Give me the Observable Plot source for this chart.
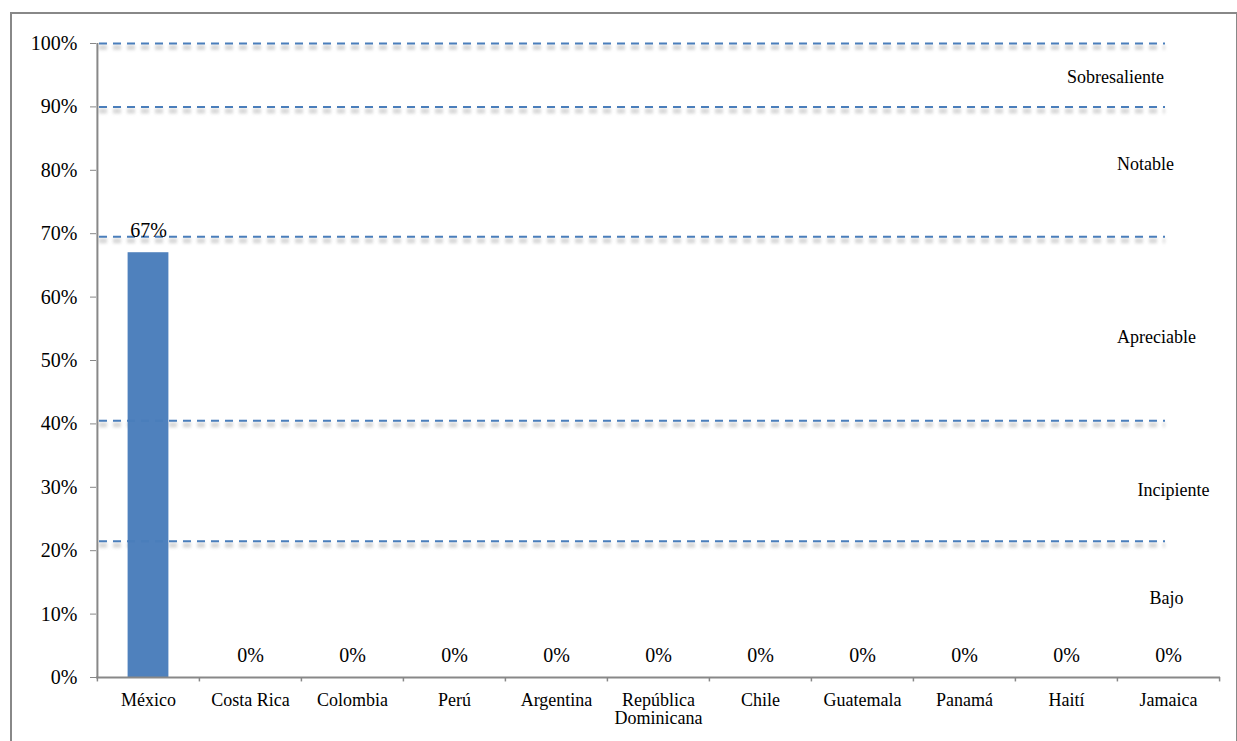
<!DOCTYPE html>
<html>
<head>
<meta charset="utf-8">
<script src="https://cdn.jsdelivr.net/npm/d3@7"></script>
<script src="https://cdn.jsdelivr.net/npm/@observablehq/plot@0.6"></script>
<style>
  html, body { margin: 0; padding: 0; background: #fff; }
  #wrap { position: relative; width: 1237px; height: 741px; overflow: hidden; }
  #frame { position: absolute; left: 10px; top: 12px; width: 1224px; height: 800px; border: 2px solid #888; pointer-events: none; }
</style>
</head>
<body>
<div id="wrap"><div id="frame"></div><div id="chart"></div></div>
<script>
const countries = ["México","Costa Rica","Colombia","Perú","Argentina","República Dominicana","Chile","Guatemala","Panamá","Haití","Jamaica"];
const tickLabels = ["México","Costa Rica","Colombia","Perú","Argentina","República\nDominicana","Chile","Guatemala","Panamá","Haití","Jamaica"];
const values = [0.67, 0, 0, 0, 0, 0, 0, 0, 0, 0, 0];
const yTicks = [0, 0.1, 0.2, 0.3, 0.4, 0.5, 0.6, 0.7, 0.8, 0.9, 1.0];
const thresholds = [1.0, 0.90, 0.695, 0.405, 0.215];
const zoneNames = ["Sobresaliente", "Notable", "Apreciable", "Incipiente", "Bajo"];
const zoneLabelY = [0.947, 0.809, 0.536, 0.295, 0.125];

const data = countries.map((c, i) => ({country: c, value: values[i]}));
const labelOf = new Map(countries.map((c, i) => [c, tickLabels[i]]));

const W = 1237, H = 741, mL = 96, mR = 17, mT = 43, mB = 64;
const bw = (W - mL - mR) / countries.length;
const pct = d3.format(".0%");
const zoneDx = [-53, -23, -12, 5, -2];

const marks = [
  // dashed threshold shadows
  Plot.ruleY(thresholds, {stroke: "#b0b0b0", strokeWidth: 5, strokeOpacity: 0.5, strokeDasharray: "8,6", dy: 4, insetLeft: 3, insetRight: 55, imageFilter: "blur(1.5px)"}),
  Plot.barY(data, {x: "country", y: "value", fill: "#4f81bd", insetLeft: 30.6, insetRight: 30.6}),
  Plot.ruleY(thresholds, {stroke: "#4a7ebb", strokeWidth: 2, strokeDasharray: "8,6", insetLeft: 3, insetRight: 55}),
  // axis lines
  Plot.ruleY([0], {stroke: "#888", strokeWidth: 2}),
  Plot.ruleX([countries[0]], {y1: 0, y2: 1, dx: -bw / 2, stroke: "#888", strokeWidth: 2}),
  // category boundary ticks
  Plot.ruleX(countries, {y1: 0, y2: -0.007, dx: -bw / 2, stroke: "#888", strokeWidth: 1.5}),
  Plot.ruleX([countries[countries.length - 1]], {y1: 0, y2: -0.007, dx: bw / 2, stroke: "#888", strokeWidth: 1.5}),
  Plot.axisY({ticks: yTicks, tickFormat: pct, tickSize: 6, tickPadding: 13, fontSize: 20, stroke: "#888"}),
  Plot.axisX({tickSize: 0, tickPadding: 16, tickFormat: d => labelOf.get(d), fontSize: 18, lineHeight: 1.0}),
  // value labels
  Plot.text(data, {x: "country", y: "value", text: d => pct(d.value), dy: -22, fontSize: 20, fill: "black"})
];
zoneNames.forEach((name, i) => {
  marks.push(Plot.text([name], {x: () => countries[countries.length - 1], y: () => zoneLabelY[i], text: d => d, dx: zoneDx[i], fontSize: 18, fill: "black"}));
});

const chart = Plot.plot({
  width: W, height: H,
  marginLeft: mL, marginRight: mR, marginTop: mT, marginBottom: mB,
  style: {fontFamily: "'Liberation Serif', 'Times New Roman', serif", fontSize: "18px", background: "transparent", color: "black"},
  x: {domain: countries, padding: 0, label: null},
  y: {domain: [0, 1], label: null},
  marks
});
document.getElementById("chart").appendChild(chart);
</script>
</body>
</html>
